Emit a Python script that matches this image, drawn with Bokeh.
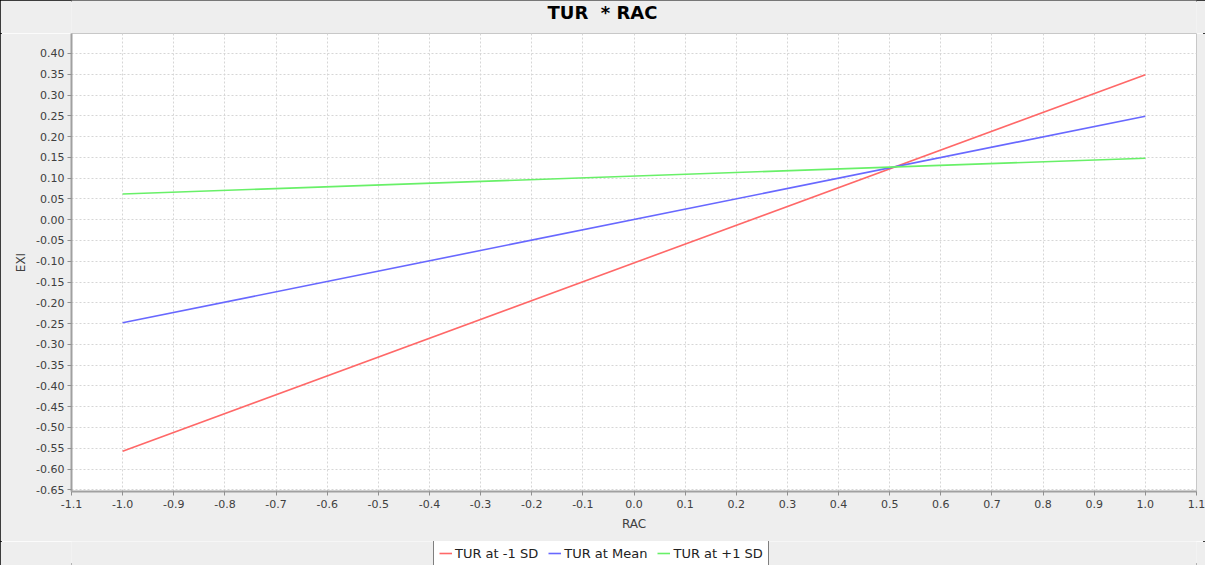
from bokeh.plotting import figure
from bokeh.models import Range1d, FixedTicker, NumeralTickFormatter, Legend, LegendItem, Label
from bokeh.layouts import column
from bokeh.embed import file_html
from bokeh.resources import INLINE

# Data
rac = [-1.0, 1.0]
tur_low = [-0.557, 0.349]
tur_mean = [-0.248, 0.249]
tur_high = [0.062, 0.148]
series_names = ["TUR at -1 SD", "TUR at Mean", "TUR at +1 SD"]
series_colors = ["#ff6868", "#6868ff", "#68f068"]
chart_title = "TUR\u00a0 * RAC"

x_ticks = [-1.1, -1.0, -0.9, -0.8, -0.7, -0.6, -0.5, -0.4, -0.3, -0.2, -0.1, 0.0,
           0.1, 0.2, 0.3, 0.4, 0.5, 0.6, 0.7, 0.8, 0.9, 1.0, 1.1]
y_ticks = [-0.65, -0.60, -0.55, -0.50, -0.45, -0.40, -0.35, -0.30, -0.25, -0.20,
           -0.15, -0.10, -0.05, 0.0, 0.05, 0.10, 0.15, 0.20, 0.25, 0.30, 0.35, 0.40]

FONT = "DejaVu Sans"
BG = "#eeeeee"


def strip(h):
    f = figure(width=1205, height=h, output_backend="svg", toolbar_location=None,
               x_range=Range1d(0, 1), y_range=Range1d(0, 1),
               min_border=0, x_axis_location=None, y_axis_location=None)
    f.background_fill_color = BG
    f.border_fill_color = BG
    f.outline_line_color = None
    f.grid.visible = False
    return f


# Title strip
t = strip(33)
t.add_layout(Label(x=531, y=21, x_units="screen", y_units="screen", text=chart_title,
                   text_align="center", text_baseline="middle", text_font=FONT,
                   text_font_size="18px", text_font_style="bold", text_color="black"))

# Main chart
p = figure(width=1205, height=508, output_backend="svg", toolbar_location=None,
           x_range=Range1d(-1.1, 1.1), y_range=Range1d(-0.654, 0.448),
           min_border_left=71, min_border_right=9, min_border_top=0, min_border_bottom=50)
p.background_fill_color = "white"
p.border_fill_color = BG
p.outline_line_color = "#c8c8c8"
p.outline_line_width = 1

for ax in (p.xaxis[0], p.yaxis[0]):
    ax.minor_tick_line_color = None
    ax.major_tick_in = 0
    ax.major_tick_out = 4
    ax.major_tick_line_color = "#909090"
    ax.axis_line_color = "#a0a0a0"
    ax.axis_line_width = 2
    ax.major_label_text_font = FONT
    ax.major_label_text_font_size = "11px"
    ax.major_label_text_color = "#404040"
    ax.axis_label_text_font = FONT
    ax.axis_label_text_font_size = "12px"
    ax.axis_label_text_font_style = "normal"
    ax.axis_label_text_color = "#404040"

p.xaxis.ticker = FixedTicker(ticks=x_ticks)
p.yaxis.ticker = FixedTicker(ticks=y_ticks)
p.xaxis.formatter = NumeralTickFormatter(format="0.0")
p.yaxis.formatter = NumeralTickFormatter(format="0.00")
p.xaxis.axis_label = "RAC"
p.yaxis.axis_label = "EXI"
p.xaxis.axis_label_standoff = 6
p.yaxis.axis_label_standoff = 5
p.xaxis.major_label_standoff = 4
p.yaxis.major_label_standoff = 3

p.grid.grid_line_color = "#d6d6d6"
p.grid.grid_line_dash = "2 2"
p.grid.grid_line_width = 1

for ys, c in zip([tur_low, tur_mean, tur_high], series_colors):
    p.line(rac, ys, line_color=c, line_width=1.6)

# Legend strip below the chart
q = strip(24)
q.x_range = Range1d(-1.1, 1.1)
q.y_range = Range1d(-0.654, 0.448)
leg_renderers = []
for ys, c in zip([tur_low, tur_mean, tur_high], series_colors):
    r = q.line(rac, ys, line_color=c, line_width=1.6, visible=False)
    leg_renderers.append(r)

legend = Legend(items=[LegendItem(label=n, renderers=[r]) for n, r in zip(series_names, leg_renderers)],
                orientation="horizontal", location=(362, -2))
legend.border_line_color = "black"
legend.border_line_width = 1
legend.background_fill_color = "white"
legend.background_fill_alpha = 1
legend.label_text_font = FONT
legend.label_text_font_size = "13px"
legend.label_text_color = "#222222"
legend.glyph_width = 13
legend.glyph_height = 16
legend.padding = 5
legend.spacing = 10
legend.label_standoff = 3
legend.margin = 0
q.add_layout(legend, "center")

layout = column(t, p, q, spacing=0)
layout.styles = {"outline": "2px solid black", "outline-offset": "-2px"}

open("out.html", "w").write(file_html(layout, INLINE))
